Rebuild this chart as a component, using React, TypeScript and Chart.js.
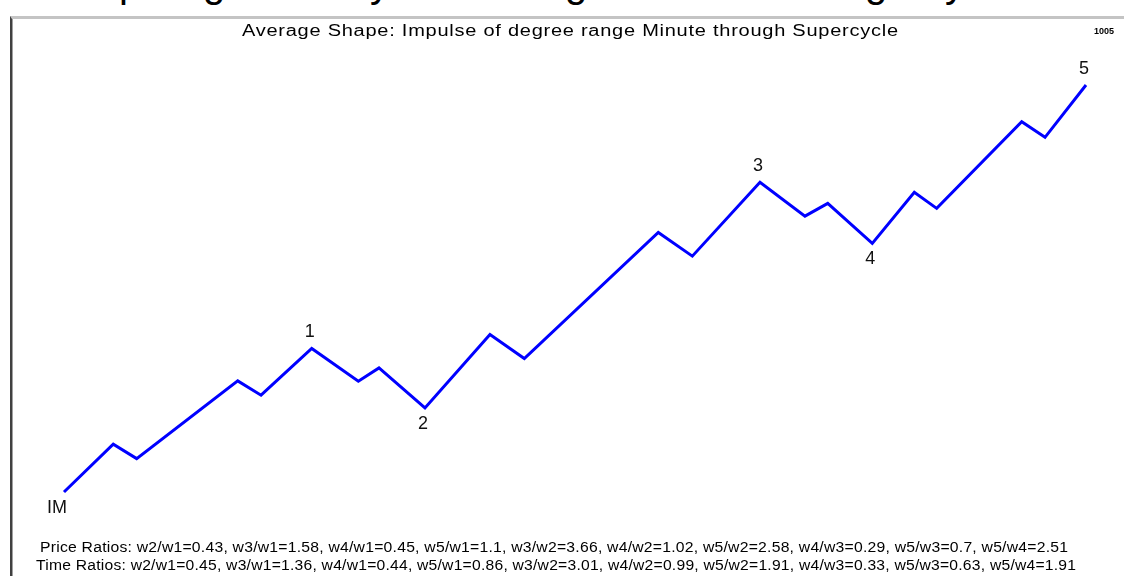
import React, { useEffect, useRef } from "react";
import { Chart, registerables } from "chart.js";

Chart.register(...registerables);

// ---- data (time and price in % of the whole impulse, IM = 0, wave 5 end = 100) ----
const timeValues = [0, 4.82, 7.11, 17.0, 19.28, 24.24, 28.8, 30.82, 35.32, 41.68, 45.04, 58.15, 61.48, 68.1, 72.5, 74.73, 79.09, 83.2, 85.39, 93.71, 95.99, 100];
const priceValues = [0, 11.73, 8.21, 27.29, 23.78, 35.26, 27.22, 30.49, 20.65, 38.7, 32.8, 63.78, 57.95, 76.08, 67.79, 70.91, 61.08, 73.62, 69.68, 90.98, 87.14, 100];

const waveLabels = ["IM", "1", "2", "3", "4", "5"];
const waveLabelIndex = [0, 5, 8, 13, 16, 21];
const waveLabelSide = ["below", "above", "below", "above", "below", "above"];

const titleText = "Average Shape: Impulse of degree range Minute through Supercycle";
const cornerText = "1005";

const ratioKeys = ["w2/w1", "w3/w1", "w4/w1", "w5/w1", "w3/w2", "w4/w2", "w5/w2", "w4/w3", "w5/w3", "w5/w4"];
const priceRatios = [0.43, 1.58, 0.45, 1.1, 3.66, 1.02, 2.58, 0.29, 0.7, 2.51];
const timeRatios = [0.45, 1.36, 0.44, 0.86, 3.01, 0.99, 1.91, 0.33, 0.63, 1.91];

const priceLine = "Price Ratios: " + ratioKeys.map((k, i) => `${k}=${priceRatios[i]}`).join(", ");
const timeLine = "Time Ratios: " + ratioKeys.map((k, i) => `${k}=${timeRatios[i]}`).join(", ");

// cut-off heading fragments visible at the very top of the picture
const topFragments = [
  { ch: "p", x: 119 },
  { ch: "g", x: 203 },
  { ch: "y", x: 370 },
  { ch: "g", x: 565 },
  { ch: "g", x: 865 },
  { ch: "y", x: 945 },
];

const FONT = "'Liberation Sans', Arial, sans-serif";

// draw text stretched horizontally to an exact width (mimics the upscaled bitmap font)
function fitText(ctx: CanvasRenderingContext2D, text: string, x: number, y: number, width: number, spacing: number) {
  (ctx as any).letterSpacing = spacing + "px";
  const w = ctx.measureText(text).width - spacing;
  const sx = width / w;
  ctx.save();
  ctx.translate(x, y);
  ctx.scale(sx, 1);
  ctx.textAlign = "left";
  ctx.fillText(text, 0, 0);
  ctx.restore();
  (ctx as any).letterSpacing = "0px";
}

const textPlugin = {
  id: "overlayText",
  afterDraw(chart: any) {
    const ctx: CanvasRenderingContext2D = chart.ctx;
    const xs = chart.scales.x;
    const ys = chart.scales.y;
    ctx.save();
    ctx.fillStyle = "#000";
    ctx.textBaseline = "alphabetic";
    // title
    ctx.font = `16px ${FONT}`;
    fitText(ctx, titleText, 242, 36, 656, 0.6);
    // corner id
    ctx.font = `bold 9px ${FONT}`;
    ctx.textAlign = "left";
    ctx.fillText(cornerText, 1094, 34);
    // ratio lines
    ctx.font = `14px ${FONT}`;
    fitText(ctx, priceLine, 40, 552, 1028, 0.2);
    fitText(ctx, timeLine, 36, 570, 1040, 0.2);
    // wave labels
    ctx.font = `18px ${FONT}`;
    ctx.fillStyle = "#111";
    ctx.textAlign = "center";
    ctx.textBaseline = "middle";
    waveLabels.forEach((lab, i) => {
      const idx = waveLabelIndex[i];
      const px = xs.getPixelForValue(timeValues[idx]);
      const py = ys.getPixelForValue(priceValues[idx]);
      const dy = waveLabelSide[i] === "above" ? -16 : 16;
      const dx = lab === "IM" ? -7 : -2;
      ctx.fillText(lab, px + dx, py + dy);
    });
    ctx.restore();
  },
};

export default function App() {
  const ref = useRef<HTMLCanvasElement | null>(null);
  useEffect(() => {
    if (!ref.current) return;
    const chart = new Chart(ref.current, {
      type: "line",
      data: {
        datasets: [
          {
            data: timeValues.map((t, i) => ({ x: t, y: priceValues[i] })),
            borderColor: "#0000ff",
            borderWidth: 3,
            pointRadius: 0,
            tension: 0,
            fill: false,
            clip: false as any,
          },
        ],
      },
      options: {
        responsive: false,
        animation: false,
        devicePixelRatio: 1,
        layout: { padding: { left: 64, right: 38, top: 85, bottom: 84 } },
        plugins: { legend: { display: false }, title: { display: false }, tooltip: { enabled: false } },
        scales: {
          x: { type: "linear", min: 0, max: 100, display: false },
          y: { type: "linear", min: 0, max: 100, display: false },
        },
      },
      plugins: [textPlugin],
    });
    return () => chart.destroy();
  }, []);

  return (
    <div style={{ position: "absolute", left: 0, top: 0, width: 1124, height: 576, overflow: "hidden", background: "#fff" }}>
      <div style={{ position: "absolute", left: 0, top: 0, width: 1124, height: 15, overflow: "hidden" }}>
        {topFragments.map((f, i) => (
          <span
            key={i}
            style={{ position: "absolute", left: f.x, top: -37, fontFamily: FONT, fontSize: 40, lineHeight: 1, color: "#000" }}
          >
            {f.ch}
          </span>
        ))}
      </div>
      <div
        style={{
          position: "absolute",
          left: 10,
          top: 16,
          width: 1200,
          height: 700,
          borderTop: "3px solid #c4c4c4",
          borderLeft: "2px solid #404040",
          boxShadow: "inset 1px 0 0 #a0a0a0",
        }}
      />
      <canvas ref={ref} width={1124} height={576} style={{ position: "absolute", left: 0, top: 0 }} />
    </div>
  );
}
